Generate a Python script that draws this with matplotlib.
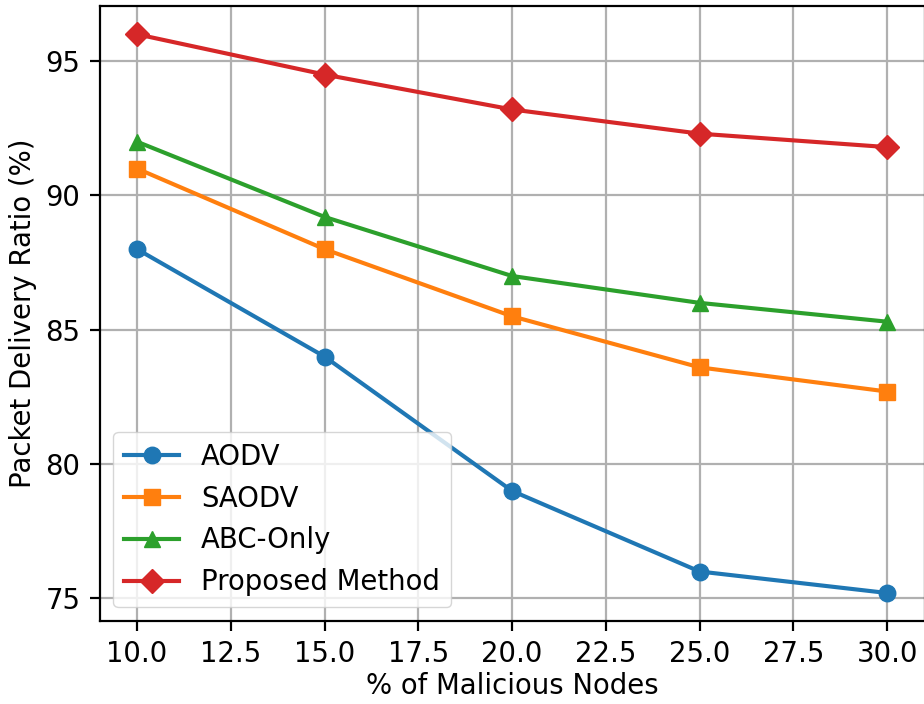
import matplotlib
matplotlib.use("Agg")
import matplotlib.pyplot as plt

x = [10, 15, 20, 25, 30]
aodv = [88.0, 84.0, 79.0, 76.0, 75.2]
saodv = [91.0, 88.0, 85.5, 83.6, 82.7]
abc_only = [92.0, 89.2, 87.0, 86.0, 85.3]
proposed = [96.0, 94.5, 93.2, 92.3, 91.8]

series = [
    ("AODV", aodv, "o"),
    ("SAODV", saodv, "s"),
    ("ABC-Only", abc_only, "^"),
    ("Proposed Method", proposed, "D"),
]

s = 1.98
plt.rcParams["font.size"] = 10 * s
fig = plt.figure(figsize=(9.24, 7.04), dpi=100)
ax = fig.add_axes([0.1077, 0.118, 0.893, 0.873])
for name, vals, m in series:
    ax.plot(x, vals, marker=m, label=name, linewidth=1.5 * s, markersize=6 * s)
ax.set_xlabel("% of Malicious Nodes", labelpad=3)
ax.set_ylabel("Packet Delivery Ratio (%)", labelpad=3 * s)
ax.grid(True, color="#b0b0b0", linewidth=0.8 * s)
for sp in ax.spines.values():
    sp.set_linewidth(0.8 * s)
ax.tick_params(width=0.8 * s, length=3.5 * s, pad=3.5 * s)
ax.legend(loc="lower left", fontsize=10 * s)
fig.savefig("out.png", dpi=100)
